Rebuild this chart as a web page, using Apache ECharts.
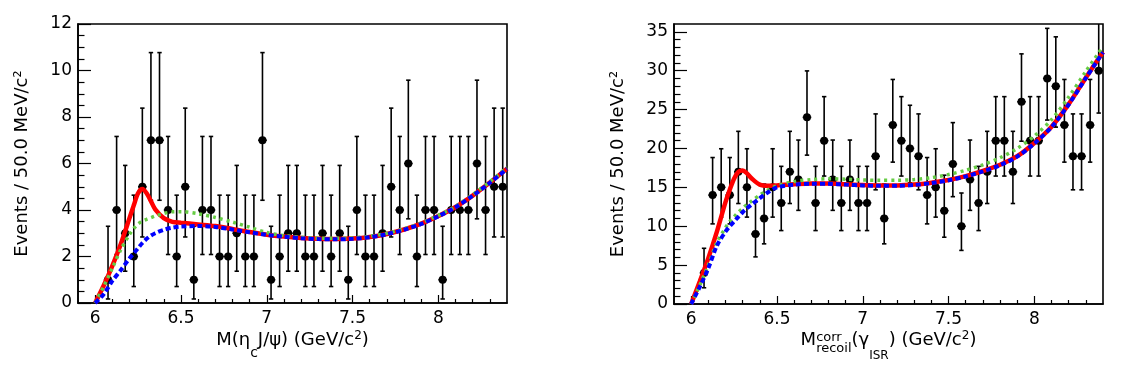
<!DOCTYPE html>
<html>
<head>
<meta charset="utf-8">
<script src="https://cdn.jsdelivr.net/npm/echarts@6/dist/echarts.min.js"></script>
<style>
html,body{margin:0;padding:0;background:#fff;}
#c{width:1136px;height:367px;}
</style>
</head>
<body>
<div id="c"></div>
<script>
// ---------------- data ----------------
const binCenters = [6.075, 6.125, 6.175, 6.225, 6.275, 6.325, 6.375, 6.425, 6.475, 6.525,
  6.575, 6.625, 6.675, 6.725, 6.775, 6.825, 6.875, 6.925, 6.975, 7.025,
  7.075, 7.125, 7.175, 7.225, 7.275, 7.325, 7.375, 7.425, 7.475, 7.525,
  7.575, 7.625, 7.675, 7.725, 7.775, 7.825, 7.875, 7.925, 7.975, 8.025,
  8.075, 8.125, 8.175, 8.225, 8.275, 8.325, 8.375];
const binHalfWidth = 0.025;

const countsLeft = [1, 4, 3, 2, 5, 7, 7, 4, 2, 5,
  1, 4, 4, 2, 2, 3, 2, 2, 7, 1,
  2, 3, 3, 2, 2, 3, 2, 3, 1, 4,
  2, 2, 3, 5, 4, 6, 2, 4, 4, 1,
  4, 4, 4, 6, 4, 5, 5];

const countsRight = [4, 14, 15, 14, 17, 15, 9, 11, 15, 13,
  17, 16, 24, 13, 21, 16, 13, 16, 13, 13,
  19, 11, 23, 21, 20, 19, 14, 15, 12, 18,
  10, 16, 13, 17, 21, 21, 17, 26, 21, 21,
  29, 28, 23, 19, 19, 23, 30];

// Poisson (Garwood 68%) interval bounds, indexed by count n
const poissonLow = [0, 0.173, 0.708, 1.367, 2.086, 2.840, 3.620, 4.419, 5.232, 6.057,
  6.891, 7.734, 8.585, 9.441, 10.30, 11.17, 12.04, 12.92, 13.80, 14.68,
  15.57, 16.45, 17.35, 18.24, 19.14, 20.03, 20.93, 21.84, 22.74, 23.65, 24.55];
const poissonHigh = [1.841, 3.300, 4.638, 5.918, 7.163, 8.382, 9.584, 10.77, 11.95, 13.11,
  14.27, 15.42, 16.56, 17.70, 18.83, 19.96, 21.08, 22.20, 23.32, 24.44,
  25.55, 26.66, 27.76, 28.87, 29.97, 31.07, 32.16, 33.26, 34.35, 35.44, 36.53];

// fit curves sampled at these masses
const curveX = [6.00, 6.05, 6.10, 6.15, 6.20, 6.225, 6.25, 6.275, 6.30, 6.325,
  6.35, 6.40, 6.45, 6.50, 6.60, 6.70, 6.80, 6.90, 7.00, 7.10,
  7.20, 7.30, 7.40, 7.50, 7.60, 7.70, 7.80, 7.90, 8.00, 8.10,
  8.20, 8.30, 8.40];

const leftTotal = [0.0, 0.75, 1.60, 2.55, 3.65, 4.20, 4.72, 4.90, 4.72, 4.38,
  4.03, 3.65, 3.49, 3.45, 3.38, 3.31, 3.18, 3.05, 2.94, 2.86,
  2.80, 2.76, 2.75, 2.77, 2.84, 2.97, 3.16, 3.41, 3.74, 4.13,
  4.62, 5.18, 5.78];
const leftBlue = [0.0, 0.38, 0.95, 1.42, 1.92, 2.14, 2.36, 2.58, 2.76, 2.90,
  3.00, 3.15, 3.24, 3.29, 3.31, 3.27, 3.16, 3.04, 2.93, 2.85,
  2.79, 2.75, 2.74, 2.76, 2.83, 2.96, 3.15, 3.40, 3.73, 4.12,
  4.61, 5.17, 5.77];
const leftGreen = [0.0, 0.72, 1.50, 2.30, 2.95, 3.20, 3.40, 3.52, 3.60, 3.67,
  3.74, 3.85, 3.92, 3.93, 3.84, 3.68, 3.48, 3.26, 3.03, 2.90,
  2.83, 2.79, 2.78, 2.80, 2.87, 3.00, 3.19, 3.44, 3.77, 4.16,
  4.66, 5.22, 5.83];

const rightTotal = [0.0, 2.9, 5.9, 9.3, 13.1, 14.7, 16.1, 17.0, 17.15, 16.8,
  16.2, 15.35, 15.2, 15.25, 15.4, 15.5, 15.5, 15.4, 15.3, 15.25,
  15.25, 15.35, 15.6, 15.95, 16.45, 17.1, 17.9, 19.0, 20.7, 22.8,
  25.7, 29.1, 32.4];
const rightBlue = [0.0, 2.2, 4.6, 7.5, 9.3, 10.0, 10.6, 11.2, 11.8, 12.3,
  12.75, 13.6, 14.4, 15.0, 15.35, 15.45, 15.45, 15.35, 15.25, 15.2,
  15.2, 15.3, 15.55, 15.9, 16.4, 17.05, 17.85, 18.95, 20.65, 22.75,
  25.65, 29.05, 32.35];
const rightGreen = [0.0, 2.4, 5.0, 7.9, 9.8, 10.6, 11.2, 11.8, 12.3, 12.8,
  13.2, 14.0, 14.7, 15.2, 15.75, 16.0, 16.1, 16.05, 15.95, 15.9,
  15.9, 16.0, 16.25, 16.65, 17.2, 17.9, 18.8, 20.0, 21.6, 23.7,
  26.6, 29.9, 33.1];

// tick values and labels
const xMajorTicks = [6, 6.5, 7, 7.5, 8];
const xMinorTicks = [6.1, 6.2, 6.3, 6.4, 6.6, 6.7, 6.8, 6.9, 7.1, 7.2, 7.3, 7.4,
  7.6, 7.7, 7.8, 7.9, 8.1, 8.2, 8.3];
const leftYMajorTicks = [0, 2, 4, 6, 8, 10, 12];
const leftYMinorTicks = [0.5, 1, 1.5, 2.5, 3, 3.5, 4.5, 5, 5.5, 6.5, 7, 7.5,
  8.5, 9, 9.5, 10.5, 11, 11.5];
const rightYMajorTicks = [0, 5, 10, 15, 20, 25, 30, 35];
const rightYMinorTicks = [1, 2, 3, 4, 6, 7, 8, 9, 11, 12, 13, 14, 16, 17, 18, 19,
  21, 22, 23, 24, 26, 27, 28, 29, 31, 32, 33, 34];

const yTitle = 'Events / 50.0 MeV/c²';

// ---------------- chart ----------------
const FONT = 'DejaVu Sans';
const W = 1136, H = 367;
const grids = [
  { left: 78, right: 629, top: 24, bottom: 64 },
  { left: 674, right: 33, top: 24, bottom: 63 }
];

function xAxes(gi) {
  return [
    { type: 'value', gridIndex: gi, min: 5.9, max: 8.4,
      axisLine: { show: true, onZero: false, lineStyle: { color: '#000', width: 1.6 } },
      axisTick: { show: true, inside: true, length: 8, customValues: xMajorTicks, lineStyle: { color: '#000', width: 1.2 } },
      axisLabel: { show: true, customValues: xMajorTicks, margin: 7, color: '#000', fontFamily: FONT, fontSize: 17 },
      splitLine: { show: false }, minorTick: { show: false } },
    { type: 'value', gridIndex: gi, min: 5.9, max: 8.4, position: 'bottom',
      axisLine: { show: false, onZero: false },
      axisTick: { show: true, inside: true, length: 4, customValues: xMinorTicks, lineStyle: { color: '#000', width: 1.2 } },
      axisLabel: { show: false }, splitLine: { show: false } }
  ];
}
function yAxes(gi, max, major, minor) {
  return [
    { type: 'value', gridIndex: gi, min: 0, max: max,
      name: yTitle, nameLocation: 'middle', nameRotate: 90, nameGap: 47,
      nameTextStyle: { color: '#000', fontFamily: FONT, fontSize: 18 },
      axisLine: { show: true, onZero: false, lineStyle: { color: '#000', width: 1.6 } },
      axisTick: { show: true, inside: true, length: 13, customValues: major, lineStyle: { color: '#000', width: 1.2 } },
      axisLabel: { show: true, customValues: major, margin: 6, color: '#000', fontFamily: FONT, fontSize: 17 },
      splitLine: { show: false } },
    { type: 'value', gridIndex: gi, min: 0, max: max, position: 'left',
      axisLine: { show: false, onZero: false },
      axisTick: { show: true, inside: true, length: 6.5, customValues: minor, lineStyle: { color: '#000', width: 1.2 } },
      axisLabel: { show: false }, splitLine: { show: false } }
  ];
}

function pointData(counts) {
  return binCenters.map((x, i) => [x, counts[i], poissonLow[counts[i]], poissonHigh[counts[i]]]);
}
function renderErr(params, api) {
  const x = api.value(0), y = api.value(1), lo = api.value(2), hi = api.value(3);
  const c = api.coord([x, y]);
  const pl = api.coord([x, lo]);
  const ph = api.coord([x, hi]);
  const xl = api.coord([x - binHalfWidth, y]);
  const xr = api.coord([x + binHalfWidth, y]);
  const st = { stroke: '#000', lineWidth: 1.6 };
  const cap = 2.2;
  return { type: 'group', children: [
    { type: 'line', shape: { x1: pl[0], y1: pl[1], x2: ph[0], y2: ph[1] }, style: st },
    { type: 'line', shape: { x1: ph[0] - cap, y1: ph[1], x2: ph[0] + cap, y2: ph[1] }, style: st },
    { type: 'line', shape: { x1: pl[0] - cap, y1: pl[1], x2: pl[0] + cap, y2: pl[1] }, style: st },
    { type: 'line', shape: { x1: xl[0], y1: c[1], x2: xr[0], y2: c[1] }, style: st },
    { type: 'circle', shape: { cx: c[0], cy: c[1], r: 4 }, style: { fill: '#000' } }
  ] };
}
function curve(ys) { return curveX.map((x, i) => [x, ys[i]]); }
function lineSeries(xi, yi, ys, color, width, type, z) {
  return { type: 'line', xAxisIndex: xi, yAxisIndex: yi, data: curve(ys), smooth: 0.3,
    showSymbol: false, symbol: 'none', z: z, clip: true, silent: true,
    lineStyle: { color: color, width: width, type: type, cap: 'butt' } };
}

const RED = '#ff0000', BLUE = '#0000ff', GREEN = '#66cc44';

// text layout for x-axis titles (sub/superscripts)
const mctx = document.createElement('canvas').getContext('2d');
function tw(t, fs) { mctx.font = fs + 'px "' + FONT + '"'; return mctx.measureText(t).width; }
function buildTitle(pieces, centerX, baseline) {
  const items = []; let x = 0;
  for (const p of pieces) {
    const stack = Array.isArray(p) ? p : [p];
    let adv = 0;
    for (const s of stack) { items.push(Object.assign({}, s, { x: x })); adv = Math.max(adv, tw(s.t, s.fs)); }
    x += adv;
  }
  const x0 = centerX - x / 2;
  return items.map(it => ({ type: 'text', x: x0 + it.x, y: baseline + (it.dy || 0) - 0.35 * it.fs, silent: true,
    style: { text: it.t, fontSize: it.fs, fontFamily: FONT, fill: '#000', align: 'left', verticalAlign: 'middle' } }));
}
const cxL = grids[0].left + (W - grids[0].left - grids[0].right) / 2;
const cxR = grids[1].left + (W - grids[1].left - grids[1].right) / 2;
const titleBaseline = 347;
const leftXTitle = [
  { t: 'M(η', fs: 18 }, { t: 'c', fs: 14, dy: 11 }, { t: 'J/ψ) (GeV/c', fs: 18 },
  { t: '2', fs: 12, dy: -7 }, { t: ')', fs: 18 }
];
const rightXTitle = [
  { t: 'M', fs: 18 }, [{ t: 'corr', fs: 13, dy: -5 }, { t: 'recoil', fs: 13, dy: 6 }],
  { t: '(γ', fs: 18 }, { t: 'ISR', fs: 12, dy: 13 }, { t: ')', fs: 18 },
  { t: ' (GeV/c', fs: 18 }, { t: '2', fs: 12, dy: -7 }, { t: ')', fs: 18 }
];

const chart = echarts.init(document.getElementById('c'), null, { renderer: 'canvas', width: W, height: H });
chart.setOption({
  animation: false,
  backgroundColor: '#fff',
  grid: grids.map(g => Object.assign({ show: true, borderColor: '#000', borderWidth: 1.6, backgroundColor: 'transparent', containLabel: false }, g)),
  xAxis: xAxes(0).concat(xAxes(1)),
  yAxis: yAxes(0, 12, leftYMajorTicks, leftYMinorTicks).concat(yAxes(1, 36, rightYMajorTicks, rightYMinorTicks)),
  series: [
    { type: 'custom', xAxisIndex: 0, yAxisIndex: 0, data: pointData(countsLeft), renderItem: renderErr,
      encode: { x: 0, y: 1 }, clip: true, z: 2, silent: true },
    lineSeries(0, 0, leftTotal, RED, 4.5, 'solid', 3),
    lineSeries(0, 0, leftGreen, GREEN, 3.5, [3, 4], 4),
    lineSeries(0, 0, leftBlue, BLUE, 4, [5, 3], 5),
    { type: 'custom', xAxisIndex: 2, yAxisIndex: 2, data: pointData(countsRight), renderItem: renderErr,
      encode: { x: 0, y: 1 }, clip: true, z: 2, silent: true },
    lineSeries(2, 2, rightTotal, RED, 4.5, 'solid', 3),
    lineSeries(2, 2, rightGreen, GREEN, 3.5, [3, 4], 4),
    lineSeries(2, 2, rightBlue, BLUE, 4, [5, 3], 5)
  ],
  graphic: { elements: buildTitle(leftXTitle, cxL, titleBaseline).concat(buildTitle(rightXTitle, cxR, titleBaseline)) }
});
</script>
</body>
</html>
